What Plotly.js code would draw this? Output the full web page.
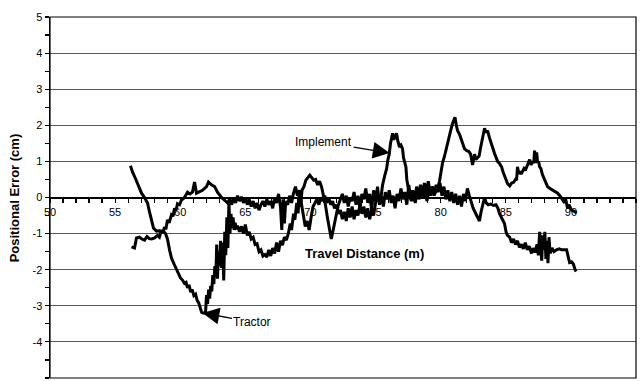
<!DOCTYPE html>
<html>
<head>
<meta charset="utf-8">
<script src="https://cdn.plot.ly/plotly-3.0.1.min.js"></script>
<style>
  html, body { margin: 0; padding: 0; background: #fff; }
  #chart { width: 640px; height: 381px; }
</style>
</head>
<body>
<div id="chart"></div>
<script>
// Positional error of tractor and implement along the travel path (cm vs m)

const tractorX = [
  56.18,56.34,56.57,56.80,57.03,57.26,57.49,57.64,57.80,57.95,58.18,58.40,58.56,58.75,58.87,59.02,59.18,59.33,59.56,59.79,
  60.02,60.20,60.33,60.45,60.56,60.68,60.80,60.92,61.05,61.18,61.30,61.42,61.54,61.64,61.75,61.87,61.95,
  62.02,62.10,62.18,62.26,62.34,62.42,62.50,62.58,62.66,62.74,62.80,62.86,62.94,63.02,63.10,63.18,63.26,63.34,63.42,63.50,
  63.58,63.66,63.74,63.82,63.90,63.98,64.06,64.14,64.22,64.30,
  64.40,64.55,64.70,64.85,65.00,65.15,65.30,65.45,65.60,65.75,65.90,66.05,66.20,66.35,66.50,66.65,66.80,66.95,67.10,67.25,
  67.40,67.55,67.70,67.85,68.00,68.15,68.30,68.45,68.55,68.70,68.80,68.95,69.05,69.15,69.25,69.35,69.50,69.65,69.80,69.95,
  70.10,70.25,70.40,70.55,70.70,70.85,71.00,71.15,71.30,71.45,71.60,71.72,71.85,72.00,72.15,72.30,
  72.45,72.60,72.75,72.90,73.05,73.20,73.35,73.50,73.65,73.80,73.95,74.10,74.25,74.40,74.55,74.70,74.85,75.00,75.15,75.30,
  75.45,75.60,75.75,75.90,76.05,76.20,76.35,76.50,76.65,76.80,76.95,77.10,77.25,77.40,77.55,77.70,77.85,78.00,78.15,78.30,
  78.45,78.60,78.75,78.90,79.05,79.20,79.35,79.50,79.65,79.80,79.95,80.10,80.25,80.40,80.55,80.70,80.85,81.00,81.15,81.30,
  81.45,81.60,81.75,81.90,82.05,82.20,82.35,82.50,82.70,82.85,82.98,83.10,83.25,83.37,83.50,83.65,83.85,84.05,84.25,84.40,
  84.52,84.70,84.90,85.02,85.13,85.30,85.44,85.60,85.75,85.90,86.05,86.20,86.35,86.50,86.65,86.80,86.98,87.10,87.25,87.40,
  87.50,87.60,87.68,87.76,87.84,87.92,88.00,88.08,88.16,88.24,88.32,88.40,88.55,88.70,88.90,89.10,89.30,89.50,89.67,89.80,
  89.90,90.05,90.20,90.30,90.40
];
const tractorY = [
  0.88,0.70,0.52,0.30,0.12,0.00,-0.15,-0.40,-0.68,-0.85,-0.93,-0.92,-0.96,-0.95,-1.00,-1.15,-1.45,-1.68,-1.87,-2.06,
  -2.23,-2.30,-2.38,-2.35,-2.50,-2.42,-2.62,-2.55,-2.72,-2.68,-2.85,-2.92,-3.05,-3.18,-3.20,-3.20,-3.15,
  -2.70,-2.95,-2.55,-2.80,-2.45,-2.60,-2.15,-2.40,-1.90,-2.20,-1.30,-2.25,-1.50,-1.90,-1.20,-1.95,-1.25,-2.30,-0.95,-1.60,
  -0.55,-1.40,-0.10,-1.00,-0.45,-0.85,-0.55,-0.90,-0.70,-0.88,
  -0.78,-0.95,-0.80,-1.00,-0.75,-1.05,-0.95,-1.15,-1.10,-1.30,-1.28,-1.50,-1.45,-1.62,-1.58,-1.65,-1.45,-1.62,-1.40,-1.55,
  -1.25,-1.50,-1.20,-1.32,-1.10,-1.18,-1.00,-0.72,-0.90,-0.45,-0.62,-0.15,-0.44,0.12,-0.26,0.20,0.30,0.48,0.57,0.62,
  0.55,0.48,0.50,0.35,0.45,0.30,0.05,-0.20,-0.55,-0.90,-1.15,-0.95,-0.75,-0.45,-0.20,-0.05,
  0.10,-0.15,0.05,-0.25,0.00,-0.10,0.15,-0.20,0.05,-0.30,0.10,-0.05,0.25,-0.15,0.10,-0.35,0.20,-0.10,0.30,-0.20,
  0.05,-0.25,0.15,-0.05,0.20,-0.15,0.05,-0.30,0.10,-0.10,0.25,-0.05,0.15,-0.20,0.35,0.00,0.20,-0.10,0.30,0.05,
  0.35,0.10,0.40,0.15,0.45,0.10,0.30,0.05,0.35,0.15,0.40,0.05,0.30,-0.05,0.20,-0.10,0.15,-0.15,0.10,-0.20,
  0.05,-0.25,0.10,-0.10,0.25,0.05,-0.15,-0.30,-0.45,-0.55,-0.65,-0.40,-0.15,0.00,-0.15,-0.20,-0.18,-0.22,-0.20,-0.30,
  -0.45,-0.60,-0.72,-0.95,-1.05,-1.10,-1.25,-1.15,-1.30,-1.20,-1.38,-1.30,-1.42,-1.25,-1.45,-1.35,-1.55,-1.40,-1.52,-1.30,
  -1.60,-0.95,-1.50,-1.75,-1.05,-1.45,-0.95,-1.70,-1.20,-1.82,-1.10,-1.55,-1.40,-1.50,-1.45,-1.42,-1.45,-1.44,-1.45,-1.65,
  -1.80,-1.78,-1.85,-1.98,-2.05
];

const implementX = [
  56.26,56.49,56.64,56.87,57.05,57.26,57.45,57.62,57.80,58.03,58.26,58.40,58.56,58.68,58.79,58.90,59.02,59.15,59.33,59.45,
  59.56,59.68,59.79,59.95,60.10,60.33,60.56,60.75,60.94,61.10,61.25,61.48,61.71,62.02,62.17,62.40,62.64,62.86,63.17,63.40,
  63.63,63.80,63.95,64.10,64.25,64.40,64.55,64.70,64.85,65.00,65.15,65.30,65.45,65.60,65.75,65.90,66.05,66.20,66.35,66.50,
  66.65,66.80,66.95,67.10,67.25,67.40,67.55,67.70,67.80,67.90,68.00,68.10,68.25,68.40,68.55,68.70,68.85,69.00,69.15,69.30,
  69.45,69.60,69.75,69.90,70.05,70.20,70.35,70.50,70.65,70.80,70.95,71.10,71.25,71.40,71.55,71.70,71.85,72.00,72.15,72.30,
  72.45,72.60,72.75,72.90,73.05,73.20,73.35,73.50,73.65,73.80,73.95,74.10,74.25,74.40,74.55,74.70,74.85,75.00,75.15,75.30,
  75.45,75.54,75.70,75.85,75.95,76.05,76.15,76.31,76.40,76.50,76.61,76.72,76.84,76.95,77.07,77.15,77.23,77.33,77.40,77.50,
  77.61,77.75,77.90,78.05,78.20,78.35,78.50,78.65,78.80,78.95,79.10,79.25,79.40,79.55,79.68,79.80,79.91,80.02,80.14,80.30,
  80.45,80.57,80.68,80.80,80.91,81.00,81.10,81.20,81.30,81.45,81.60,81.72,81.83,82.00,82.15,82.30,82.45,82.60,82.70,82.83,
  82.95,83.05,83.14,83.25,83.37,83.48,83.60,83.75,83.91,84.02,84.14,84.25,84.37,84.50,84.60,84.68,84.80,84.91,85.02,85.14,
  85.30,85.45,85.60,85.75,85.83,85.90,86.00,86.06,86.18,86.29,86.40,86.50,86.60,86.72,86.83,86.95,87.05,87.15,87.21,87.28,
  87.37,87.45,87.52,87.60,87.70,87.80,87.90,87.98,88.10,88.21,88.40,88.60,88.80,88.98,89.15,89.29,89.40,89.52,89.60,89.75,
  89.85,90.05,90.25,90.44
];
const implementY = [
  -1.37,-1.40,-1.12,-1.10,-1.15,-1.18,-1.08,-1.14,-1.15,-1.12,-1.05,-1.10,-0.90,-0.98,-0.82,-0.88,-0.62,-0.70,-0.48,-0.52,
  -0.30,-0.36,-0.17,-0.20,-0.07,0.00,0.15,0.10,0.15,0.43,0.12,0.15,0.20,0.30,0.43,0.35,0.30,0.15,0.00,-0.07,
  -0.15,-0.05,-0.20,0.00,-0.15,0.05,-0.10,0.02,-0.15,0.00,-0.20,-0.05,-0.25,-0.10,-0.30,-0.15,-0.35,-0.20,-0.10,-0.25,
  -0.05,-0.20,-0.10,-0.30,0.00,-0.15,0.10,-0.25,-0.90,-0.05,-0.72,-0.10,-0.20,0.05,-0.15,0.12,0.30,0.05,0.20,-0.15,
  -0.50,-0.80,-0.65,-0.90,-0.55,-0.25,-0.15,-0.05,-0.20,0.00,-0.10,0.05,-0.15,0.00,-0.20,-0.10,-0.30,-0.20,-0.45,-0.35,
  -0.60,-0.40,-0.65,-0.30,-0.55,-0.25,-0.60,-0.35,-0.50,-0.20,-0.45,-0.25,-0.55,-0.30,-0.60,-0.35,-0.50,-0.15,0.00,-0.10,
  0.10,0.35,0.60,0.80,1.05,1.20,1.50,1.78,1.60,1.70,1.78,1.55,1.40,1.45,1.35,1.10,1.00,0.85,0.50,0.25,
  0.05,-0.10,0.15,-0.15,0.20,-0.05,0.25,0.00,0.20,-0.10,0.25,0.05,0.30,0.10,0.20,0.30,0.45,0.70,0.95,1.15,
  1.40,1.55,1.78,1.90,2.05,2.12,2.22,2.00,1.85,1.75,1.60,1.50,1.35,1.30,1.28,1.20,0.90,1.20,1.05,1.10,
  1.15,1.35,1.50,1.75,1.92,1.80,1.85,1.65,1.50,1.35,1.22,1.10,1.00,0.95,0.90,0.85,0.70,0.60,0.45,0.38,
  0.32,0.40,0.42,0.50,0.48,0.85,0.65,0.72,0.65,0.72,0.80,0.75,0.85,0.95,1.05,0.90,1.00,0.95,1.30,0.95,
  1.25,0.95,1.00,0.85,0.80,0.65,0.55,0.48,0.38,0.30,0.25,0.20,0.15,0.12,0.05,-0.02,-0.10,-0.15,-0.05,-0.30,
  -0.20,-0.35,-0.38,-0.43
];

// Axis tick labels (hyphen minus, as printed)
const yTickVals = [5, 4, 3, 2, 1, 0, -1, -2, -3, -4, -5];
const yTickText = ['5', '4', '3', '2', '1', '0', '-1', '-2', '-3', '-4', '-5'];
const xTickVals = [50, 55, 60, 65, 70, 75, 80, 85, 90, 95];
const xTickText = ['50', '55', '60', '65', '70', '75', '80', '85', '90', '95'];

const FONT = 'Liberation Sans, Arial, sans-serif';
const lineStyle = { color: '#000000', width: 3 };

const traces = [
  { x: tractorX, y: tractorY, name: 'Tractor', type: 'scatter', mode: 'lines', line: lineStyle, hoverinfo: 'skip' },
  { x: implementX, y: implementY, name: 'Implement', type: 'scatter', mode: 'lines', line: lineStyle, hoverinfo: 'skip' }
];

const layout = {
  width: 640,
  height: 381,
  margin: { l: 50, r: 4, t: 17, b: 3, pad: 0 },
  paper_bgcolor: '#ffffff',
  plot_bgcolor: '#ffffff',
  showlegend: false,
  font: { family: FONT, color: '#000000', size: 11 },
  xaxis: {
    range: [50, 95],
    anchor: 'free',
    position: 0.5,
    side: 'bottom',
    automargin: false,
    showgrid: false,
    zeroline: false,
    showline: true,
    linecolor: '#000000',
    linewidth: 1.5,
    tickmode: 'array',
    tickvals: xTickVals,
    ticktext: xTickText,
    ticks: 'outside',
    ticklen: 4,
    tickwidth: 1.2,
    tickcolor: '#000000',
    tickfont: { family: FONT, size: 11, color: '#000000' },
    minor: { dtick: 1, tick0: 50, ticks: 'outside', ticklen: 4, tickwidth: 1.2, tickcolor: '#000000', showgrid: false }
  },
  yaxis: {
    range: [-5, 5],
    automargin: false,
    showgrid: true,
    gridcolor: '#5a5a5a',
    gridwidth: 1,
    zeroline: true,
    zerolinecolor: '#000000',
    zerolinewidth: 1.5,
    showline: true,
    linecolor: '#000000',
    linewidth: 1.5,
    tickmode: 'array',
    tickvals: yTickVals,
    ticktext: yTickText,
    ticks: 'outside',
    ticklen: 4,
    tickwidth: 1.2,
    tickcolor: '#000000',
    tickfont: { family: FONT, size: 11, color: '#000000' },
    minor: { dtick: 0.5, tick0: 0, ticks: 'outside', ticklen: 4, tickwidth: 1.2, tickcolor: '#000000', showgrid: false }
  },
  shapes: [
    { type: 'rect', xref: 'paper', yref: 'paper', x0: 0, x1: 1, y0: 0, y1: 1,
      line: { color: '#000000', width: 1.2 }, fillcolor: 'rgba(0,0,0,0)', layer: 'above' }
  ],
  annotations: [
    { xref: 'paper', yref: 'paper', x: -0.06, y: 0.5, xanchor: 'center', yanchor: 'middle',
      text: 'Positional Error (cm)', textangle: -90, showarrow: false,
      font: { family: FONT, size: 13, weight: 'bold', color: '#000000' } },
    { xref: 'x', yref: 'y', x: 74.16, y: -1.54, xanchor: 'center', yanchor: 'middle',
      text: 'Travel Distance (m)', showarrow: false,
      font: { family: FONT, size: 13, weight: 'bold', color: '#000000' } },
    { xref: 'x', yref: 'y', x: 76.08, y: 1.23, text: 'Implement', showarrow: true,
      ax: -66, ay: -11, arrowhead: 2, arrowsize: 2.4, arrowwidth: 1.4, arrowcolor: '#000000',
      font: { family: FONT, size: 12, color: '#000000' } },
    { xref: 'x', yref: 'y', x: 61.71, y: -3.2, text: 'Tractor', showarrow: true,
      ax: 50, ay: 9, arrowhead: 2, arrowsize: 2.4, arrowwidth: 1.4, arrowcolor: '#000000',
      font: { family: FONT, size: 12, color: '#000000' } }
  ]
};

Plotly.newPlot('chart', traces, layout, { staticPlot: true, displayModeBar: false });
</script>
</body>
</html>
